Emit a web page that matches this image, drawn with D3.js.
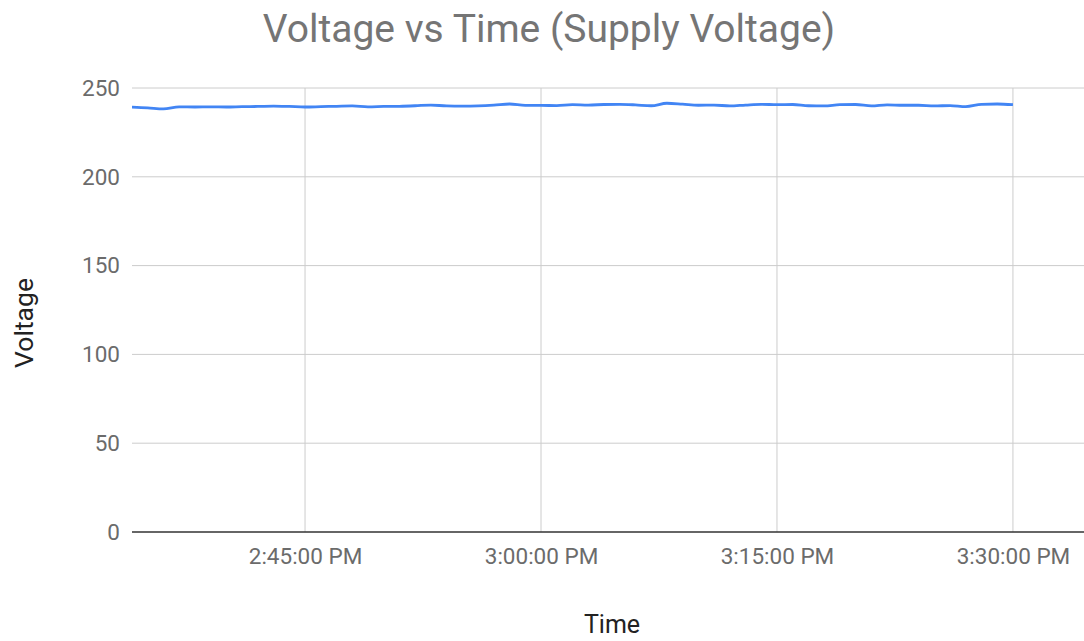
<!DOCTYPE html>
<html>
<head>
<meta charset="utf-8">
<script src="https://cdn.jsdelivr.net/npm/d3@7"></script>
<style>
  body { margin: 0; background: #fff; font-family: Roboto, Arial, sans-serif; }
  .grid line { stroke: #cccccc; stroke-width: 1; }
  .tick text { fill: #6b6b6b; font-size: 22.5px; font-family: Roboto, Arial, sans-serif; }
</style>
</head>
<body>
<svg></svg>
<script>
const width = 1084, height = 641;
const margin = { top: 88, right: 0, bottom: 109, left: 132 };

// one reading per minute, 2:34 PM to 3:30 PM
const startMinute = 34;
const voltage = [
  239.2, 238.8, 238.2, 239.4, 239.3, 239.4, 239.3, 239.5, 239.6, 239.8,
  239.6, 239.3, 239.5, 239.7, 239.9, 239.4, 239.6, 239.7, 240.0, 240.4,
  239.9, 239.8, 239.9, 240.3, 241.0, 240.2, 240.2, 240.1, 240.6, 240.4,
  240.7, 240.8, 240.5, 240.0, 241.4, 240.9, 240.3, 240.4, 239.9, 240.4,
  240.8, 240.6, 240.7, 240.0, 239.9, 240.6, 240.7, 239.9, 240.5, 240.3,
  240.3, 239.9, 240.1, 239.5, 240.8, 241.0, 240.6
];
const yTicks = [0, 50, 100, 150, 200, 250];

const data = voltage.map((v, i) => ({ t: new Date(2020, 0, 1, 14, startMinute + i), v }));

const svg = d3.select('svg').attr('width', width).attr('height', height);

const x = d3.scaleTime()
  .domain([new Date(2020, 0, 1, 14, 34, 0), new Date(2020, 0, 1, 15, 34, 31)])
  .range([margin.left, width - margin.right]);
const y = d3.scaleLinear().domain([0, 250]).range([height - margin.bottom, margin.top]);

const xTicks = d3.timeMinute.every(15).range(new Date(2020, 0, 1, 14, 45), new Date(2020, 0, 1, 15, 31));

// horizontal gridlines
svg.append('g').attr('class', 'grid')
  .selectAll('line').data(yTicks.filter(d => d > 0)).enter().append('line')
  .attr('x1', margin.left).attr('x2', width - margin.right)
  .attr('y1', d => y(d)).attr('y2', d => y(d));

// vertical gridlines
svg.append('g').attr('class', 'grid')
  .selectAll('line').data(xTicks).enter().append('line')
  .attr('x1', d => x(d)).attr('x2', d => x(d))
  .attr('y1', y(250)).attr('y2', y(0));

// y axis labels
const yAxis = svg.append('g')
  .attr('transform', `translate(${margin.left},0)`)
  .call(d3.axisLeft(y).tickValues(yTicks).tickSize(0).tickPadding(12));
yAxis.select('.domain').remove();

// x axis labels
const xAxis = svg.append('g')
  .attr('transform', `translate(0,${y(0)})`)
  .call(d3.axisBottom(x).tickValues(xTicks).tickFormat(d3.timeFormat('%-I:%M:%S %p')).tickSize(0).tickPadding(16));
xAxis.select('.domain').remove();

// baseline
svg.append('line')
  .attr('x1', margin.left).attr('x2', width - margin.right)
  .attr('y1', y(0)).attr('y2', y(0))
  .attr('stroke', '#333').attr('stroke-width', 1.5);

// the series
svg.append('path').datum(data)
  .attr('fill', 'none')
  .attr('stroke', '#4285f4')
  .attr('stroke-width', 2.8)
  .attr('stroke-linejoin', 'round')
  .attr('d', d3.line().x(d => x(d.t)).y(d => y(d.v)).curve(d3.curveMonotoneX));

// titles
svg.append('text')
  .attr('x', 549).attr('y', 42)
  .attr('text-anchor', 'middle')
  .attr('fill', '#757575')
  .style('font-size', '39px')
  .text('Voltage vs Time (Supply Voltage)');

svg.append('text')
  .attr('transform', 'translate(33,323) rotate(-90)')
  .attr('text-anchor', 'middle')
  .attr('fill', '#222')
  .style('font-size', '26.5px')
  .text('Voltage');

svg.append('text')
  .attr('x', 612).attr('y', 633)
  .attr('text-anchor', 'middle')
  .attr('fill', '#222')
  .style('font-size', '25px')
  .text('Time');
</script>
</body>
</html>
